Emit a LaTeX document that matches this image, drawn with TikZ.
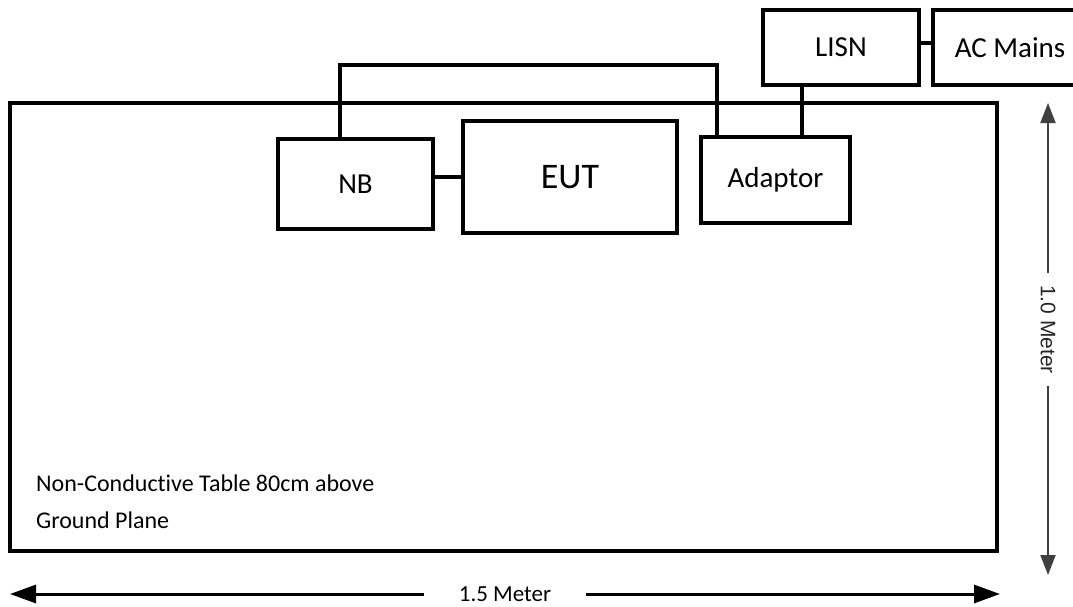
\documentclass[tikz,border=0pt]{standalone}
\usepackage{fontspec}
\setmainfont{Carlito}[Ligatures=NoCommon]
\newfontfamily\arialfont{Liberation Sans}
\usetikzlibrary{arrows.meta,positioning,calc}

\begin{document}
\begin{tikzpicture}[x=1pt, y=-1pt,
  unitbox/.style={draw=black, line width=4pt, inner sep=0pt, font=\fontsize{29}{34}\selectfont},
  wire/.style={line width=4pt},
  dimarrow/.style={line width=3pt, {Triangle[length=26pt,width=18pt]}-{Triangle[length=26pt,width=18pt]}}]
  \clip (0,0) rectangle (1073,606);

  % Table
  \node[draw=black, line width=4.5pt, minimum width=987pt, minimum height=448pt, inner sep=0pt] (table) at (503.5,327) {};
  \node[anchor=west, align=left, inner sep=0pt, font=\fontsize{24}{37}\selectfont] (tablenote) at (36,501.5) {Non-Conductive Table 80cm above\\Ground Plane};

  % Units on the table
  \node[unitbox, minimum width=155pt, minimum height=90pt] (nb) at (355.5,184) {NB};
  \node[unitbox, minimum width=214pt, minimum height=112pt, font=\fontsize{36}{42}\selectfont] (eut) at (570,177) {EUT};
  \node[unitbox, minimum width=149pt, minimum height=86pt] (adaptor) at (775.5,180) {Adaptor};

  % Mains side
  \node[unitbox, minimum width=156pt, minimum height=75pt] (lisn) at (841,47.5) {LISN};
  \node[unitbox, minimum width=154pt, minimum height=75pt] (acmains) at (1010,47.5) {AC Mains};

  % Cables
  \draw[wire] (eut.west) -- (eut.west -| nb.east);
  \draw[wire] ([xshift=-15.5pt]nb.north) -- ++(0,-72) -| ([xshift=-58.5pt]adaptor.north);
  \draw[wire] ([xshift=-39pt]lisn.south) -- ([xshift=-39pt]lisn.south |- adaptor.north);
  \draw[wire] ([yshift=5pt]lisn.east) -- ([yshift=5pt]acmains.west);

  % Dimensions
  \coordinate (wleft) at (10,594);
  \coordinate (wright) at (1000,594);
  \draw[dimarrow] (wleft) -- node[fill=white, inner xsep=35pt, inner ysep=2pt, font=\fontsize{23}{27}\selectfont] (wlabel) {1.5 Meter} (wright);
  \coordinate (htop) at (1048,103);
  \coordinate (hbottom) at (1048,575);
  \draw[line width=2pt, black!75, {Triangle[length=20pt,width=15pt]}-{Triangle[length=20pt,width=15pt]}] (htop) -- node[pos=0.48, fill=white, rotate=-90, inner xsep=12pt, inner ysep=2pt, text=black!85, font=\arialfont\fontsize{21}{25}\selectfont] (hlabel) {1.0 Meter} (hbottom);
\end{tikzpicture}
\end{document}
